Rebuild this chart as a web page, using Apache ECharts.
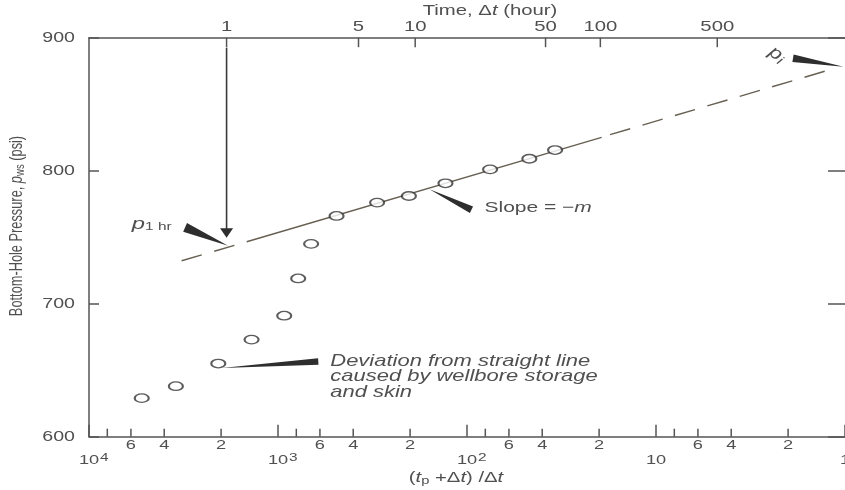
<!DOCTYPE html>
<html><head><meta charset="utf-8">
<script src="https://cdn.jsdelivr.net/npm/echarts@6/dist/echarts.min.js"></script>
<style>html,body{margin:0;padding:0;background:#fff}#c{width:845px;height:490px}</style>
</head><body><div id="c"></div>
<script>
// ---- Data (Horner plot) ----
const hornerRatio = [5260, 3470, 2070, 1380, 927, 782, 668, 490, 299, 203, 130, 75.5, 46.8, 34.2];
const pressure    = [629, 638, 655, 673, 691, 719, 745, 766, 776, 781, 790.5, 801, 809, 815.5];

// straight-line (semilog) segments, endpoints
const lineDashLeftR  = [3236, 1688];  const lineDashLeftP  = [732.3, 744.0];
const lineSolidR     = [1464, 19.4];  const lineSolidP     = [746.6, 825.0];
const lineDashRightR = [17.5, 1.25];  const lineDashRightP = [827.1, 875.2];

// axis ticks
const yTicks = [600, 700, 800, 900];
const xMajorTicks = [10000, 1000, 100, 10, 1];
const xMajorBase  = ['10', '10', '10', '10', '1'];
const xMajorExp   = ['4', '3', '2', '', ''];
const xMinorTicks  = [8000, 6000, 4000, 2000, 800, 600, 400, 200, 80, 60, 40, 20, 8, 6, 4, 2];
const xMinorLabels = ['', '6', '4', '2', '', '6', '4', '2', '', '6', '4', '2', '', '6', '4', '2'];
const timeTicks = [1, 5, 10, 50, 100, 500];     // Δt, hours (top axis)
const productionTime = 1870;                     // t_p, hours
const p1hr = 742;                                 // p at Δt = 1 hr on the straight line
const pInitial = 879;                             // extrapolated p_i
const slopePoint = [158, 786];                    // where "Slope = -m" points

// ---- styling ----
const FONT = "'Liberation Sans', Arial, Helvetica, sans-serif";
const SX = 1.4;
const AX = '#555';
const TXT = '#505050';
const LINE = '#675f52';

const chart = echarts.init(document.getElementById('c'));

const xTickAll = xMajorTicks.concat(xMinorTicks);
const topTickR = timeTicks.map(t => (productionTime + t) / t);

function wedge(tip, base, hw) {
  const dx = tip[0] - base[0], dy = tip[1] - base[1];
  const L = Math.hypot(dx, dy);
  const nx = -dy / L * hw, ny = dx / L * hw;
  return {type: 'polygon', shape: {points: [tip, [base[0] + nx, base[1] + ny], [base[0] - nx, base[1] - ny]]},
          style: {fill: '#2e2e2e'}};
}

const annotations = [
  {anchor: [productionTime + 1, p1hr], kind: 'p1hr'},
  {anchor: slopePoint, kind: 'slope'},
  {anchor: [hornerRatio[2], pressure[2]], kind: 'deviation'},
  {anchor: [1, pInitial], kind: 'pi'}
];

function renderAnnotation(params, api) {
  const a = annotations[params.dataIndex];
  const c = api.coord(a.anchor);
  const x = c[0], y = c[1];
  const ch = [];
  if (a.kind === 'p1hr') {
    const top = api.coord([a.anchor[0], 900]);
    ch.push({type: 'line', shape: {x1: x, y1: top[1] + 10, x2: x, y2: y - 18}, style: {stroke: '#3a3a3a', lineWidth: 1.6}});
    ch.push({type: 'polygon', shape: {points: [[x - 6.5, y - 19.5], [x + 6.5, y - 19.5], [x, y - 10]]}, style: {fill: '#2e2e2e'}});
    ch.push(wedge([x + 1.5, y - 2], [x - 41.5, y - 20.5], 4.8));
    ch.push({type: 'text', x: x - 55, y: y - 24, scaleX: SX,
      style: {text: '{i|p}{s|1 hr}', align: 'right', verticalAlign: 'middle', fill: TXT,
        rich: {i: {fontStyle: 'italic', fontSize: 17, fontFamily: FONT, fill: TXT, lineHeight: 18},
               s: {fontSize: 11, fontFamily: FONT, fill: TXT, lineHeight: 12, verticalAlign: 'bottom'}}}});
  } else if (a.kind === 'slope') {
    ch.push(wedge([x, y], [x + 42, y + 20.5], 3.6));
    ch.push({type: 'text', x: x + 55, y: y + 19, scaleX: SX,
      style: {text: 'Slope = \u2212{i|m}', align: 'left', verticalAlign: 'middle', fill: TXT, font: '15px ' + FONT,
        rich: {i: {fontStyle: 'italic', fontSize: 15, fontFamily: FONT, fill: TXT}}}});
  } else if (a.kind === 'deviation') {
    ch.push(wedge([x + 3.5, y + 4.5], [x + 100, y - 2], 3.2));
    const lines = ['Deviation from straight line', 'caused by wellbore storage', 'and skin'];
    lines.forEach((t, k) => ch.push({type: 'text', x: x + 112, y: y - 2 + k * 15.5, scaleX: SX,
      style: {text: t, align: 'left', verticalAlign: 'middle', fill: TXT, font: 'italic 15.7px ' + FONT}}));
  } else if (a.kind === 'pi') {
    ch.push(wedge([x - 1.5, y + 1], [x - 52, y - 7.5], 3.8));
    ch.push({type: 'text', x: x - 68, y: y - 11, rotation: -0.64, scaleX: 1.2,
      style: {text: '{i|p}{s|i}', align: 'center', verticalAlign: 'middle', fill: TXT,
        rich: {i: {fontStyle: 'italic', fontSize: 18, fontFamily: FONT, fill: TXT, lineHeight: 20},
               s: {fontStyle: 'italic', fontSize: 13, fontFamily: FONT, fill: TXT, lineHeight: 13, verticalAlign: 'bottom'}}}});
  }
  return {type: 'group', children: ch};
}

function renderBottomTick(params, api) {
  const i = params.dataIndex;
  const major = i < xMajorTicks.length;
  const v = xTickAll[i];
  const p = api.coord([v, 600]);
  const ch = [{type: 'line', shape: {x1: p[0], y1: p[1], x2: p[0], y2: p[1] - (major ? 12 : 8)},
               style: {stroke: AX, lineWidth: 1.5}}];
  if (major) {
    const base = xMajorBase[i], ex = xMajorExp[i];
    ch.push({type: 'text', x: p[0], y: p[1] + 23.5, scaleX: SX,
      style: {text: base, align: 'center', verticalAlign: 'middle', fill: TXT, font: '13px ' + FONT}});
    if (ex) {
      ch.push({type: 'text', x: p[0] + 11, y: p[1] + 21.3, scaleX: SX,
        style: {text: ex, align: 'left', verticalAlign: 'middle', fill: TXT, font: '11px ' + FONT}});
    }
  } else {
    const lab = xMinorLabels[i - xMajorTicks.length];
    if (lab) {
      ch.push({type: 'text', x: p[0], y: p[1] + 8.3, scaleX: SX,
        style: {text: lab, align: 'center', verticalAlign: 'middle', fill: TXT, font: '13px ' + FONT}});
    }
  }
  return {type: 'group', children: ch};
}

function renderTopTick(params, api) {
  const i = params.dataIndex;
  const p = api.coord([topTickR[i], 900]);
  return {type: 'group', children: [
    {type: 'line', shape: {x1: p[0], y1: p[1], x2: p[0], y2: p[1] + 9.5}, style: {stroke: AX, lineWidth: 1.5}},
    {type: 'text', x: p[0], y: p[1] - 10.5, scaleX: SX,
      style: {text: String(timeTicks[i]), align: 'center', verticalAlign: 'middle', fill: TXT, font: '14.5px ' + FONT}}
  ]};
}

function renderYLabel(params, api) {
  const v = yTicks[params.dataIndex];
  const p = api.coord([10000, v]);
  return {type: 'text', x: p[0] - 14, y: p[1], scaleX: SX,
    style: {text: String(v), align: 'right', verticalAlign: 'middle', fill: TXT, font: '14px ' + FONT}};
}

const xAxisBase = {type: 'log', logBase: 10, min: 1, max: 10000, inverse: true,
  axisLine: {show: true, onZero: false, lineStyle: {color: AX, width: 1.5}},
  axisTick: {show: false}, axisLabel: {show: false}, splitLine: {show: false}, minorTick: {show: false}};

chart.setOption({
  animation: false,
  backgroundColor: '#fff',
  grid: {left: 89, right: 0, top: 37.7, bottom: 53.3, containLabel: false},
  xAxis: [Object.assign({position: 'bottom'}, xAxisBase), Object.assign({position: 'top'}, xAxisBase)],
  yAxis: [
    {type: 'value', min: 600, max: 900, interval: 100, position: 'left',
     axisLine: {show: true, onZero: false, lineStyle: {color: AX, width: 1.5}},
     axisTick: {show: true, inside: true, length: 10, lineStyle: {color: AX, width: 1.5}},
     axisLabel: {show: false}, splitLine: {show: false}},
    {type: 'value', min: 600, max: 900, interval: 100, position: 'right',
     axisLine: {show: false},
     axisTick: {show: true, inside: true, length: 17, lineStyle: {color: AX, width: 1.5}},
     axisLabel: {show: false}, splitLine: {show: false}}
  ],
  series: [
    {type: 'line', data: lineDashLeftR.map((r, i) => [r, lineDashLeftP[i]]), symbol: 'none', silent: true, z: 2,
     lineStyle: {color: LINE, width: 1.4, type: [21, 13]}},
    {type: 'line', data: lineSolidR.map((r, i) => [r, lineSolidP[i]]), symbol: 'none', silent: true, z: 2,
     lineStyle: {color: LINE, width: 1.4, type: 'solid'}},
    {type: 'line', data: lineDashRightR.map((r, i) => [r, lineDashRightP[i]]), symbol: 'none', silent: true, z: 2,
     lineStyle: {color: LINE, width: 1.4, type: [21, 12.8]}},
    {type: 'scatter', data: hornerRatio.map((r, i) => [r, pressure[i]]), z: 5, silent: true,
     symbol: 'path://M0,5A7,5,0,1,1,14,5A7,5,0,1,1,0,5Z', symbolSize: [14, 8.5],
     itemStyle: {color: '#fff', borderColor: '#333', borderWidth: 1.7}},
    {type: 'custom', clip: false, silent: true, z: 6, data: xTickAll.map(v => [v, 600]), renderItem: renderBottomTick},
    {type: 'custom', clip: false, silent: true, z: 6, data: topTickR.map(v => [v, 900]), renderItem: renderTopTick},
    {type: 'custom', clip: false, silent: true, z: 6, data: yTicks.map(v => [10000, v]), renderItem: renderYLabel},
    {type: 'custom', clip: false, silent: true, z: 7, data: annotations.map(a => a.anchor), renderItem: renderAnnotation}
  ],
  graphic: [
    {type: 'text', x: 490, y: 11, scaleX: SX, silent: true,
     style: {text: 'Time, \u0394{i|t} (hour)', align: 'center', verticalAlign: 'middle', fill: TXT, font: '14.5px ' + FONT,
       rich: {i: {fontStyle: 'italic', fontSize: 14.5, fontFamily: FONT, fill: TXT}}}},
    {type: 'text', x: 456, y: 478, scaleX: SX, silent: true,
     style: {text: '({i|t}{s|p} +\u0394{i|t}) /\u0394{i|t}', align: 'center', verticalAlign: 'middle', fill: TXT, font: '14.5px ' + FONT,
       rich: {i: {fontStyle: 'italic', fontSize: 14.5, fontFamily: FONT, fill: TXT, lineHeight: 18},
              s: {fontSize: 10.5, fontFamily: FONT, fill: TXT, lineHeight: 11, verticalAlign: 'bottom'}}}},
    {type: 'text', x: 17, y: 226, rotation: Math.PI / 2, scaleY: 1.4, silent: true,
     style: {text: 'Bottom-Hole Pressure, {i|p}{s|ws} (psi)', align: 'center', verticalAlign: 'middle', fill: TXT, font: '12.8px ' + FONT,
       rich: {i: {fontStyle: 'italic', fontSize: 13, fontFamily: FONT, fill: TXT, lineHeight: 15},
              s: {fontSize: 9.5, fontFamily: FONT, fill: TXT, lineHeight: 10, verticalAlign: 'bottom'}}}}
  ]
});
</script>
</body></html>
